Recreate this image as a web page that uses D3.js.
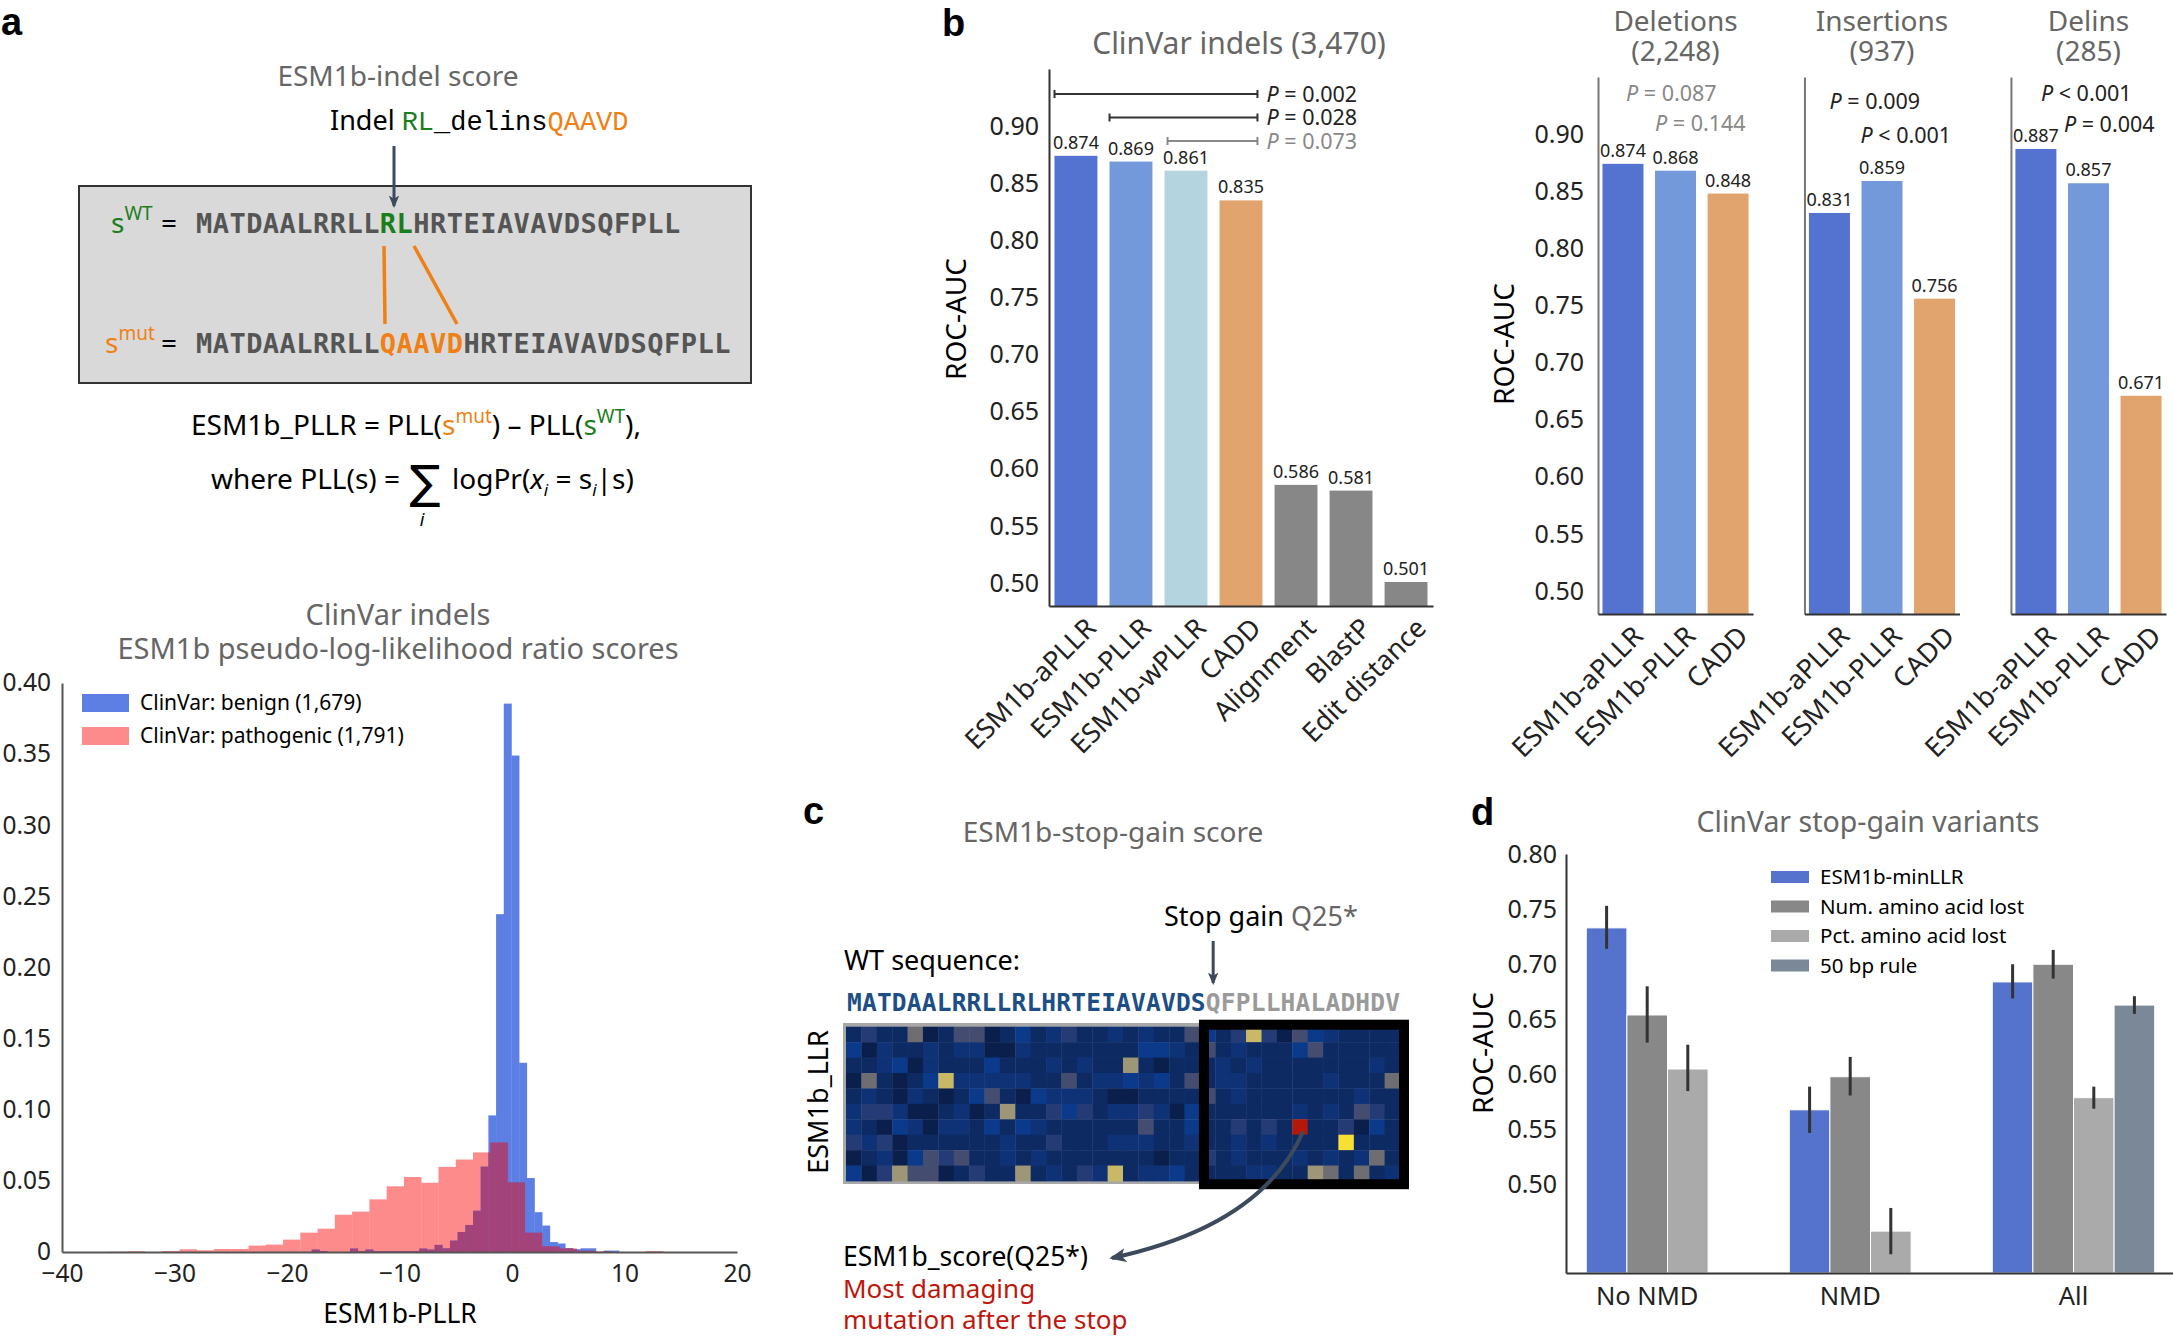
<!DOCTYPE html>
<html>
<head>
<meta charset="utf-8">
<script src="https://cdn.jsdelivr.net/npm/d3@7"></script>
<style>
body { margin: 0; background: #fff; }
svg { display: block; font-family: "Noto Sans", sans-serif; }
</style>
</head>
<body>
<script>
// ---- panel a: sequences ----
var wtSeq = "MATDAALRRLLRLHRTEIAVAVDSQFPLL";
var mutSeq = "MATDAALRRLLQAAVDHRTEIAVAVDSQFPLL";
var wtHit = [11, 13];      // RL
var mutHit = [11, 16];     // QAAVD

// ---- panel a: histogram (density per bin) ----
var histTicksY = [0, 0.05, 0.10, 0.15, 0.20, 0.25, 0.30, 0.35, 0.40];
var histTicksX = [-40, -30, -20, -10, 0, 10, 20];
var benignStart = -18.49, benignWidth = 0.683;
var benignDensity = [0, 0.0017, 0.0007, 0, 0, 0, 0.0024, 0.0007, 0.0017, 0.0007, 0.0007, 0.0007,
  0.0007, 0.0007, 0.0007, 0.0024, 0.0017, 0.005, 0.0026, 0.008, 0.014, 0.019, 0.029, 0.060,
  0.096, 0.2375, 0.3855, 0.349, 0.133, 0.052, 0.028, 0.0186, 0.007, 0.006, 0.0026, 0.002,
  0.0026, 0.0026, 0, 0.001, 0.001];
var pathoStart = -35.70, pathoWidth = 1.535;
var pathoDensity = [0.0002, 0.0005, 0, 0.0007, 0.0019, 0.0012, 0.0021, 0.0021, 0.0045, 0.0052,
  0.0087, 0.0136, 0.0164, 0.0262, 0.0284, 0.037, 0.0462, 0.0527, 0.0487, 0.0598, 0.065, 0.070,
  0.077, 0.049, 0.0136, 0.004, 0.0026, 0.001, 0.0005, 0, 0, 0.0007];
var histLegend = ["ClinVar: benign (1,679)", "ClinVar: pathogenic (1,791)"];

// ---- panel b ----
var rocTicks = [0.50, 0.55, 0.60, 0.65, 0.70, 0.75, 0.80, 0.85, 0.90];
var indelMethods = ["ESM1b-aPLLR", "ESM1b-PLLR", "ESM1b-wPLLR", "CADD", "Alignment", "BlastP", "Edit distance"];
var indelAuc = [0.874, 0.869, 0.861, 0.835, 0.586, 0.581, 0.501];
var indelPFrom = [0, 1, 2];
var indelPText = ["= 0.002", "= 0.028", "= 0.073"];
var subsetNames = ["Deletions", "Insertions", "Delins"];
var subsetCounts = ["(2,248)", "(937)", "(285)"];
var subsetMethods = ["ESM1b-aPLLR", "ESM1b-PLLR", "CADD"];
var deletionsAuc = [0.874, 0.868, 0.848];
var insertionsAuc = [0.831, 0.859, 0.756];
var delinsAuc = [0.887, 0.857, 0.671];
var subsetPText = [["= 0.087", "= 0.144"], ["= 0.009", "< 0.001"], ["< 0.001", "= 0.004"]];

// ---- panel c ----
var stopSeq = "MATDAALRRLLRLHRTEIAVAVDSQFPLLHALADHDV";
var stopPos = 24;   // Q25
var llrRows = [
  "141160155013124112121153148405321111",
  "302112122002111111133215121113511111",
  "112302111311121211710111212111111121",
  "061013822222115122323151221111121116",
  "121021013510322210011115121111111211",
  "244200120171143412242031111112121541",
  "21032022131321111115113114141R114031",
  "424011111121141112221121121211119111",
  "012035451121211111110114121112121261",
  "304755014117121428122311112211761612"
];

// ---- panel d ----
var stopGroups = ["No NMD", "NMD", "All"];
var stopSeries = ["ESM1b-minLLR", "Num. amino acid lost", "Pct. amino acid lost", "50 bp rule"];
var stopTicks = [0.50, 0.55, 0.60, 0.65, 0.70, 0.75, 0.80];
var minLLRAuc = [0.733, 0.568, 0.684], minLLRLo = [0.714, 0.547, 0.669], minLLRHi = [0.753, 0.589, 0.700];
var numLostAuc = [0.654, 0.598, 0.700], numLostLo = [0.629, 0.581, 0.687], numLostHi = [0.680, 0.616, 0.713];
var pctLostAuc = [0.605, 0.458, 0.579], pctLostLo = [0.585, 0.437, 0.569], pctLostHi = [0.627, 0.479, 0.589];
var bp50Auc = [null, null, 0.663], bp50Lo = [null, null, 0.655], bp50Hi = [null, null, 0.671];

// ================================================================
var green = "#1b7d1b", orange = "#f07f14", titleGray = "#666", ink = "#222";
var svg = d3.select("body").append("svg").attr("width", 2173).attr("height", 1336);
var defs = svg.append("defs");
defs.append("marker").attr("id", "arr")
    .attr("viewBox", "0 0 12 10").attr("refX", 10).attr("refY", 5)
    .attr("markerWidth", 4.2).attr("markerHeight", 3.6).attr("orient", "auto")
  .append("path").attr("d", "M0,0 L12,5 L0,10 L3,5 Z").attr("fill", "#3d4a5c");

function styleAxis(g, size) {
  g.attr("font-size", null).attr("font-family", null);
  g.selectAll(".tick text").style("font-size", size + "px").attr("fill", ink);
  g.select(".domain").attr("stroke", "#333").attr("stroke-width", 2);
}
function rotateLabels(g) {
  g.selectAll(".tick text").attr("x", 0).attr("y", 0).attr("dy", "0.35em").attr("text-anchor", "end")
   .attr("transform", "translate(15,17) rotate(-45)");
}

// panel letters
[["a", 1, 35], ["b", 942, 36], ["c", 803, 824], ["d", 1471, 825]].forEach(function(l) {
  svg.append("text").attr("x", l[1]).attr("y", l[2]).text(l[0])
     .style("font-family", "Liberation Sans").style("font-weight", "bold").style("font-size", "38px");
});

// ---------------- panel a (top) ----------------
var gA = svg.append("g");
gA.append("text").attr("x", 398).attr("y", 86).attr("text-anchor", "middle")
   .style("font-size", "28px").attr("fill", titleGray).text("ESM1b-indel score");

var indel = gA.append("text").attr("x", 330).attr("y", 130).style("font-size", "27px");
indel.append("tspan").text("Indel ");
indel.append("tspan").style("font-family", "Liberation Mono").attr("fill", green).text("RL");
indel.append("tspan").style("font-family", "Liberation Mono").text("_delins");
indel.append("tspan").style("font-family", "Liberation Mono").attr("fill", orange).text("QAAVD");

gA.append("rect").attr("x", 79).attr("y", 186).attr("width", 672).attr("height", 197)
   .attr("fill", "#d9d9d9").attr("stroke", "#333").attr("stroke-width", 2);
gA.append("line").attr("x1", 394).attr("x2", 394).attr("y1", 146).attr("y2", 206)
   .attr("stroke", "#3d4a5c").attr("stroke-width", 3).attr("marker-end", "url(#arr)");

var charW = 16.7;
function seqLine(seq, hit, hitColor, y, sColor, sup, sx) {
  var s = gA.append("text").attr("x", sx).attr("y", y).style("font-size", "28px").attr("fill", sColor);
  s.append("tspan").text("s");
  s.append("tspan").attr("dy", -13).style("font-size", "19px").text(sup);
  gA.append("text").attr("x", 161).attr("y", y).style("font-size", "28px").text("=");
  var t = gA.append("text").attr("x", 196).attr("y", y)
      .style("font-family", "DejaVu Sans Mono").style("font-weight", "bold").style("font-size", "27px")
      .attr("textLength", seq.length * charW).attr("lengthAdjust", "spacing").attr("fill", "#555");
  t.append("tspan").text(seq.slice(0, hit[0]));
  t.append("tspan").attr("fill", hitColor).text(seq.slice(hit[0], hit[1]));
  t.append("tspan").text(seq.slice(hit[1]));
}
seqLine(wtSeq, wtHit, green, 233, green, "WT", 111);
seqLine(mutSeq, mutHit, orange, 353, orange, "mut", 105);

gA.append("path").attr("d", "M384,246 L385,324").attr("stroke", orange).attr("stroke-width", 3.5).attr("fill", "none");
gA.append("path").attr("d", "M414,246 L457,324").attr("stroke", orange).attr("stroke-width", 3.5).attr("fill", "none");

var f1 = gA.append("text").attr("x", 416).attr("y", 435).attr("text-anchor", "middle").style("font-size", "28px");
f1.append("tspan").text("ESM1b_PLLR = PLL(");
f1.append("tspan").attr("fill", orange).text("s");
f1.append("tspan").attr("fill", orange).attr("dy", -12).style("font-size", "19px").text("mut");
f1.append("tspan").attr("dy", 12).text(") \u2013 PLL(");
f1.append("tspan").attr("fill", green).text("s");
f1.append("tspan").attr("fill", green).attr("dy", -12).style("font-size", "19px").text("WT");
f1.append("tspan").attr("dy", 12).text("),");

gA.append("text").attr("x", 400).attr("y", 489).attr("text-anchor", "end").style("font-size", "28px").text("where PLL(s) =");
gA.append("text").attr("x", 425).attr("y", 498).attr("text-anchor", "middle")
   .style("font-family", "DejaVu Sans").style("font-size", "46px").text("\u2211");
gA.append("text").attr("x", 422).attr("y", 526).attr("text-anchor", "middle")
   .style("font-size", "18px").style("font-style", "italic").text("i");
var f2 = gA.append("text").attr("x", 452).attr("y", 489).style("font-size", "28px");
f2.append("tspan").text("logPr(");
f2.append("tspan").style("font-style", "italic").text("x");
f2.append("tspan").attr("dy", 7).style("font-size", "17px").style("font-style", "italic").text("i");
f2.append("tspan").attr("dy", -7).text(" = s");
f2.append("tspan").attr("dy", 7).style("font-size", "17px").style("font-style", "italic").text("i");
f2.append("tspan").attr("dy", -7).text("|s)");

// ---------------- panel a (histogram) ----------------
var gH = svg.append("g");
gH.append("text").attr("x", 398).attr("y", 625).attr("text-anchor", "middle")
   .style("font-size", "29px").attr("fill", titleGray).text("ClinVar indels");
gH.append("text").attr("x", 398).attr("y", 659).attr("text-anchor", "middle")
   .style("font-size", "29px").attr("fill", titleGray).text("ESM1b pseudo-log-likelihood ratio scores");

var xH = d3.scaleLinear().domain([-40, 20]).range([62, 737]);
var yH = d3.scaleLinear().domain([0, 0.40]).range([1252, 683]);

function toBins(start, w, vals) {
  return vals.map(function(v, i) { return {x0: start + i * w, x1: start + (i + 1) * w, v: v}; });
}
var benignBins = toBins(benignStart, benignWidth, benignDensity);
var pathoBins = toBins(pathoStart, pathoWidth, pathoDensity);
var overlapBins = [];
benignBins.forEach(function(b) {
  pathoBins.forEach(function(p) {
    var a = Math.max(b.x0, p.x0), c = Math.min(b.x1, p.x1);
    if (c > a) overlapBins.push({x0: a, x1: c, v: Math.min(b.v, p.v)});
  });
});
function drawBins(bins, color) {
  gH.append("g").selectAll("rect").data(bins.filter(function(d) { return d.v > 0; })).enter().append("rect")
    .attr("x", function(d) { return xH(d.x0); })
    .attr("width", function(d) { return xH(d.x1) - xH(d.x0) + 0.3; })
    .attr("y", function(d) { return yH(d.v); })
    .attr("height", function(d) { return yH(0) - yH(d.v); })
    .attr("fill", color);
}
drawBins(pathoBins, "#fe8b8b");
drawBins(benignBins, "#5d7fe4");
drawBins(overlapBins, "#a4437a");

var hy = gH.append("g").attr("transform", "translate(62,0)")
  .call(d3.axisLeft(yH).tickValues(histTicksY).tickSize(0).tickPadding(11)
        .tickFormat(function(d) { return d === 0 ? "0" : d3.format(".2f")(d); }));
styleAxis(hy, 24.5);
hy.select(".domain").attr("stroke", "#555");
var hx = gH.append("g").attr("transform", "translate(0,1252)")
  .call(d3.axisBottom(xH).tickValues(histTicksX).tickSize(0).tickPadding(13));
styleAxis(hx, 24.5);
hx.select(".domain").attr("stroke", "#555");
gH.append("text").attr("x", 400).attr("y", 1323).attr("text-anchor", "middle")
   .style("font-size", "26.5px").text("ESM1b-PLLR");

var leg = gH.append("g").selectAll("g").data(histLegend).enter().append("g")
  .attr("transform", function(d, i) { return "translate(82," + (694 + i * 33) + ")"; });
leg.append("rect").attr("width", 47).attr("height", 18)
   .attr("fill", function(d, i) { return i === 0 ? "#5d7fe4" : "#fe8b8b"; });
leg.append("text").attr("x", 58).attr("y", 9).attr("dy", "0.35em").style("font-size", "21px").text(function(d) { return d; });

// ---------------- panel b (left) ----------------
var methodColor = d3.scaleOrdinal()
  .domain(["ESM1b-aPLLR", "ESM1b-PLLR", "ESM1b-wPLLR", "CADD", "Alignment", "BlastP", "Edit distance"])
  .range(["#5472cf", "#7499db", "#b4d4df", "#e2a46f", "#878787", "#878787", "#878787"]);

var gB = svg.append("g");
gB.append("text").attr("x", 1239).attr("y", 54).attr("text-anchor", "middle")
   .style("font-size", "30px").attr("fill", titleGray).text("ClinVar indels (3,470)");

var yB = d3.scaleLinear().domain([0.48, 0.95]).range([606, 69]);
var xB = d3.scaleBand().domain(indelMethods).range([1049, 1433]).paddingInner(0.22).paddingOuter(0.1);
var indelData = indelMethods.map(function(m, i) { return {m: m, v: indelAuc[i]}; });

gB.append("g").selectAll("rect").data(indelData).enter().append("rect")
  .attr("x", function(d) { return xB(d.m); }).attr("width", xB.bandwidth())
  .attr("y", function(d) { return yB(d.v); }).attr("height", function(d) { return yB(0.48) - yB(d.v); })
  .attr("fill", function(d) { return methodColor(d.m); });
gB.append("g").selectAll("text").data(indelData).enter().append("text")
  .attr("x", function(d) { return xB(d.m) + xB.bandwidth() / 2; }).attr("y", function(d) { return yB(d.v) - 7; })
  .attr("text-anchor", "middle").style("font-size", "18px").attr("fill", ink)
  .text(function(d) { return d3.format(".3f")(d.v); });

var byB = gB.append("g").attr("transform", "translate(1049,0)")
  .call(d3.axisLeft(yB).tickValues(rocTicks).tickSize(0).tickPadding(10).tickFormat(d3.format(".2f")));
styleAxis(byB, 25);
var bxB = gB.append("g").attr("transform", "translate(0,606)")
  .call(d3.axisBottom(xB).tickSize(0).tickSizeOuter(0));
styleAxis(bxB, 27);
rotateLabels(bxB);
gB.append("text").attr("transform", "translate(966,319) rotate(-90)").attr("text-anchor", "middle")
   .style("font-size", "28px").text("ROC-AUC");

// p-value brackets against CADD
var cadd = indelMethods.indexOf("CADD");
indelPFrom.forEach(function(fi, i) {
  var col = i === 2 ? "#888" : "#333";
  var x1 = xB(indelMethods[fi]) + (i === 2 ? 3 : 0), x2 = xB(indelMethods[cadd]) + xB.bandwidth() - 5;
  var y = 94 + i * 23.5;
  gB.append("line").attr("x1", x1).attr("x2", x2).attr("y1", y).attr("y2", y).attr("stroke", col).attr("stroke-width", 2);
  [x1, x2].forEach(function(x) {
    gB.append("line").attr("x1", x).attr("x2", x).attr("y1", y - 4).attr("y2", y + 4).attr("stroke", col).attr("stroke-width", 2);
  });
  var t = gB.append("text").attr("x", x2 + 9).attr("y", y).attr("dy", "0.35em").style("font-size", "21.5px")
    .attr("fill", i === 2 ? "#888" : ink);
  t.append("tspan").style("font-style", "italic").text("P");
  t.append("tspan").text(" " + indelPText[i]);
});

// ---------------- panel b (subsets) ----------------
var subsetAuc = [deletionsAuc, insertionsAuc, delinsAuc];
var yR = d3.scaleLinear().domain([0.48, 0.95]).range([614, 77]);
var xS = d3.scaleBand().domain(subsetNames).range([1598, 2166]).paddingInner(0.249);
var xM = d3.scaleBand().domain(subsetMethods).range([0, xS.bandwidth()]).paddingInner(0.22).paddingOuter(0.085);
var pOffsets = [[[28, 93], [57, 123]], [[25, 101], [56, 135]], [[30, 93], [53, 124]]];

subsetNames.forEach(function(name, si) {
  var g = svg.append("g").attr("transform", "translate(" + xS(name) + ",0)");
  var cx = xS.bandwidth() / 2;
  g.append("text").attr("x", cx).attr("y", 31).attr("text-anchor", "middle").style("font-size", "28px")
   .attr("fill", titleGray).text(name);
  g.append("text").attr("x", cx).attr("y", 61).attr("text-anchor", "middle").style("font-size", "28px")
   .attr("fill", titleGray).text(subsetCounts[si]);
  var data = subsetMethods.map(function(m, i) { return {m: m, v: subsetAuc[si][i]}; });
  g.selectAll("rect").data(data).enter().append("rect")
    .attr("x", function(d) { return xM(d.m); }).attr("width", xM.bandwidth())
    .attr("y", function(d) { return yR(d.v); }).attr("height", function(d) { return yR(0.48) - yR(d.v); })
    .attr("fill", function(d) { return methodColor(d.m); });
  g.selectAll(".val").data(data).enter().append("text")
    .attr("x", function(d) { return xM(d.m) + xM.bandwidth() / 2; }).attr("y", function(d) { return yR(d.v) - 7; })
    .attr("text-anchor", "middle").style("font-size", "18px").attr("fill", ink)
    .text(function(d) { return d3.format(".3f")(d.v); });
  var ay = g.append("g").call(d3.axisLeft(yR).tickValues(si === 0 ? rocTicks : []).tickSize(0).tickPadding(14)
    .tickFormat(d3.format(".2f")));
  styleAxis(ay, 25);
  ay.select(".domain").attr("stroke", "#777");
  var ax = g.append("g").attr("transform", "translate(0,614)").call(d3.axisBottom(xM).tickSize(0).tickSizeOuter(0));
  styleAxis(ax, 27);
  rotateLabels(ax);
  subsetPText[si].forEach(function(p, pi) {
    var t = g.append("text").attr("x", pOffsets[si][pi][0]).attr("y", pOffsets[si][pi][1]).attr("dy", "0.35em")
      .style("font-size", "21.5px").attr("fill", si === 0 ? "#888" : ink);
    t.append("tspan").style("font-style", "italic").text("P");
    t.append("tspan").text(" " + p);
  });
});
svg.append("text").attr("transform", "translate(1514,344) rotate(-90)").attr("text-anchor", "middle")
   .style("font-size", "28px").text("ROC-AUC");

// ---------------- panel c ----------------
var gC = svg.append("g");
gC.append("text").attr("x", 1113).attr("y", 842).attr("text-anchor", "middle").style("font-size", "28px")
  .attr("fill", titleGray).text("ESM1b-stop-gain score");
var sg = gC.append("text").attr("x", 1164).attr("y", 926).style("font-size", "27px");
sg.append("tspan").text("Stop gain ");
sg.append("tspan").attr("fill", titleGray).text("Q" + (stopPos + 1) + "*");
gC.append("text").attr("x", 844).attr("y", 970).style("font-size", "27px").text("WT sequence:");

var seqT = gC.append("text").attr("x", 847).attr("y", 1011)
  .style("font-family", "DejaVu Sans Mono").style("font-weight", "bold").style("font-size", "24.5px")
  .attr("textLength", 553).attr("lengthAdjust", "spacing");
seqT.append("tspan").attr("fill", "#1d4f86").text(stopSeq.slice(0, stopPos));
seqT.append("tspan").attr("fill", "#9a9a9a").text(stopSeq.slice(stopPos));
var qx = 847 + (stopPos + 0.5) * 553 / stopSeq.length;
gC.append("line").attr("x1", qx).attr("x2", qx).attr("y1", 941).attr("y2", 983)
  .attr("stroke", "#3d4a5c").attr("stroke-width", 3).attr("marker-end", "url(#arr)");

var nCols = llrRows[0].length;
var hxs = d3.scaleBand().domain(d3.range(nCols)).range([846, 1400]);
var hys = d3.scaleBand().domain(d3.range(llrRows.length)).range([1026.7, 1181]);
var llrColor = d3.scaleOrdinal().domain(["0", "1", "2", "3", "4", "5", "6", "7", "8", "9", "R"])
  .range(["#0b1f4d", "#0d2a63", "#0e3275", "#0b3a8a", "#253b76", "#444d70", "#6d6d72", "#9d9677", "#c9b865", "#f7e033", "#b3180a"]);
var cells = [];
llrRows.forEach(function(row, r) {
  row.split("").forEach(function(c, k) { cells.push({r: r, c: k, v: c}); });
});
gC.append("rect").attr("x", 845).attr("y", 1025).attr("width", 556).attr("height", 157)
  .attr("fill", "none").attr("stroke", "#a8a8a8").attr("stroke-width", 4);
gC.append("g").selectAll("rect").data(cells).enter().append("rect")
  .attr("x", function(d) { return hxs(d.c); }).attr("y", function(d) { return hys(d.r); })
  .attr("width", hxs.bandwidth() + 0.4).attr("height", hys.bandwidth() + 0.4)
  .attr("fill", function(d) { return llrColor(d.v); });
var boxStart = stopPos - 1;
gC.append("rect").attr("x", hxs(boxStart) + 4).attr("y", 1024.7)
  .attr("width", hxs.range()[1] - hxs(boxStart)).attr("height", 159.5)
  .attr("fill", "none").attr("stroke", "#000").attr("stroke-width", 10);
gC.append("text").attr("transform", "translate(828,1102) rotate(-90)").attr("text-anchor", "middle")
  .style("font-size", "27px").text("ESM1b_LLR");

var redCell = cells.filter(function(d) { return d.v === "R"; })[0];
var sx = hxs(redCell.c) + hxs.bandwidth() * 0.7, sy = hys(redCell.r) + hys.bandwidth() * 0.8;
gC.append("path").attr("d", "M" + sx + "," + sy + " Q1262,1226 1112,1258")
  .attr("fill", "none").attr("stroke", "#3d4a5c").attr("stroke-width", 4).attr("marker-end", "url(#arr)");
gC.append("text").attr("x", 843).attr("y", 1266).style("font-size", "26.5px").text("ESM1b_score(Q" + (stopPos + 1) + "*)");
gC.append("text").attr("x", 843).attr("y", 1298).style("font-size", "26px").attr("fill", "#c0170d").text("Most damaging");
gC.append("text").attr("x", 843).attr("y", 1329).style("font-size", "26px").attr("fill", "#c0170d").text("mutation after the stop");

// ---------------- panel d ----------------
var gD = svg.append("g");
gD.append("text").attr("x", 1868).attr("y", 832).attr("text-anchor", "middle").style("font-size", "28.5px")
  .attr("fill", titleGray).text("ClinVar stop-gain variants");
var yD = d3.scaleLinear().domain([0.42, 0.80]).range([1273, 854]);
var xD = d3.scaleBand().domain(stopGroups).range([1566, 2175]).paddingInner(0.2).paddingOuter(0.1);
var xDs = d3.scaleBand().domain(stopSeries).range([0, xD.bandwidth()]);
var seriesColor = d3.scaleOrdinal().domain(stopSeries).range(["#5572cc", "#888888", "#aaaaaa", "#7a8897"]);
var seriesVals = [[minLLRAuc, minLLRLo, minLLRHi], [numLostAuc, numLostLo, numLostHi],
                  [pctLostAuc, pctLostLo, pctLostHi], [bp50Auc, bp50Lo, bp50Hi]];
var stopData = [];
stopGroups.forEach(function(g, gi) {
  stopSeries.forEach(function(s, si) {
    var v = seriesVals[si][0][gi];
    if (v !== null) stopData.push({g: g, s: s, v: v, lo: seriesVals[si][1][gi], hi: seriesVals[si][2][gi]});
  });
});
gD.append("g").selectAll("rect").data(stopData).enter().append("rect")
  .attr("x", function(d) { return xD(d.g) + xDs(d.s); }).attr("width", xDs.bandwidth())
  .attr("y", function(d) { return yD(d.v); }).attr("height", function(d) { return yD(0.42) - yD(d.v); })
  .attr("fill", function(d) { return seriesColor(d.s); }).attr("stroke", "#fff").attr("stroke-width", 1);
gD.append("g").selectAll("line").data(stopData).enter().append("line")
  .attr("x1", function(d) { return xD(d.g) + xDs(d.s) + xDs.bandwidth() / 2; })
  .attr("x2", function(d) { return xD(d.g) + xDs(d.s) + xDs.bandwidth() / 2; })
  .attr("y1", function(d) { return yD(d.lo); }).attr("y2", function(d) { return yD(d.hi); })
  .attr("stroke", "#333").attr("stroke-width", 3);
var dy = gD.append("g").attr("transform", "translate(1566,0)")
  .call(d3.axisLeft(yD).tickValues(stopTicks).tickSize(0).tickPadding(9).tickFormat(d3.format(".2f")));
styleAxis(dy, 25);
var dx = gD.append("g").attr("transform", "translate(0,1273)").call(d3.axisBottom(xD).tickSize(0).tickSizeOuter(0));
styleAxis(dx, 25.5);
dx.selectAll(".tick text").attr("y", 23).attr("dy", "0.35em").attr("x", function(g) {
  var n = stopData.filter(function(d) { return d.g === g; }).length;
  return n * xDs.bandwidth() / 2 - xD.bandwidth() / 2;
});
gD.append("text").attr("transform", "translate(1493,1053) rotate(-90)").attr("text-anchor", "middle")
  .style("font-size", "28px").text("ROC-AUC");
var dl = gD.append("g").selectAll("g").data(stopSeries).enter().append("g")
  .attr("transform", function(d, i) { return "translate(1771," + (871 + i * 29.5) + ")"; });
dl.append("rect").attr("width", 38).attr("height", 12).attr("fill", function(d) { return seriesColor(d); });
dl.append("text").attr("x", 49).attr("y", 6).attr("dy", "0.35em").style("font-size", "20.5px").text(function(d) { return d; });
</script>
</body>
</html>
